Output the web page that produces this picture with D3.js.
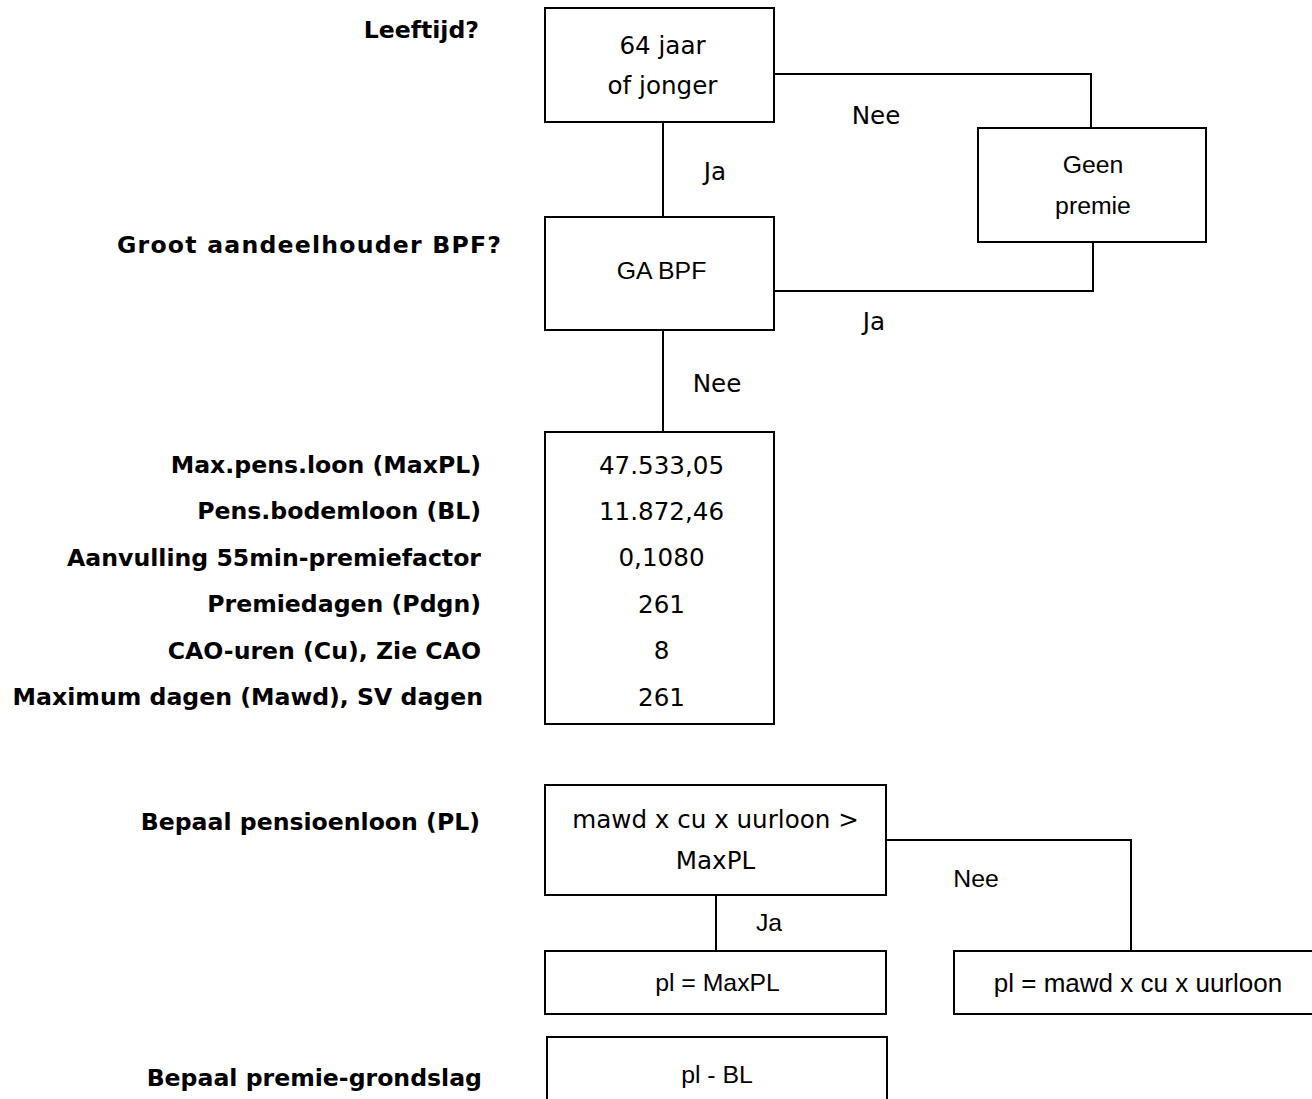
<!DOCTYPE html>
<html>
<head>
<meta charset="utf-8">
<script src="https://cdn.jsdelivr.net/npm/d3@7"></script>
<style>
  body { margin: 0; background: #fff; }
  svg { display: block; }
  .q { font-family: "DejaVu Sans", Tahoma, sans-serif; font-weight: bold; font-size: 23.6px; fill: #000; }
  .t { font-family: "DejaVu Sans", Tahoma, sans-serif; font-size: 24.6px; fill: #000; }
  .a { font-family: "Liberation Sans", Arial, sans-serif; font-size: 24.8px; fill: #000; }
  .box { fill: none; stroke: #000; stroke-width: 2; }
  .link { fill: none; stroke: #000; stroke-width: 2; }
</style>
</head>
<body>
<svg width="1312" height="1099"></svg>
<script>
// Questions on the left
var questions = ["Leeftijd?", "Groot aandeelhouder BPF?", "Bepaal pensioenloon (PL)", "Bepaal premie-grondslag"];

// Parameter block
var paramLabels = [
  "Max.pens.loon (MaxPL)",
  "Pens.bodemloon (BL)",
  "Aanvulling 55min-premiefactor",
  "Premiedagen (Pdgn)",
  "CAO-uren (Cu), Zie CAO",
  "Maximum dagen (Mawd), SV dagen"
];
var paramValues = ["47.533,05", "11.872,46", "0,1080", "261", "8", "261"];

// Box texts
var ageText = ["64 jaar", "of jonger"];
var noPremText = ["Geen", "premie"];
var gaText = ["GA BPF"];
var plTest = ["mawd x cu x uurloon >", "MaxPL"];
var plMax = ["pl = MaxPL"];
var plCalc = ["pl = mawd x cu x uurloon"];
var baseText = ["pl - BL"];

// Branch labels
var yes = "Ja", no = "Nee";

var svg = d3.select("svg"),
  width = +svg.attr("width"),
  height = +svg.attr("height");

// box layout (x0, y0, x1, y1)
var B = {
  age:    [545, 8, 774, 122],
  noPrem: [978, 128, 1206, 242],
  ga:     [545, 217, 774, 330],
  params: [545, 432, 774, 724],
  test:   [545, 785, 886, 895],
  max:    [545, 951, 886, 1014],
  calc:   [954, 951, 1318, 1014],
  base:   [547, 1037, 887, 1104]
};

function cx(b) { return (b[0] + b[2]) / 2; }
function cy(b) { return (b[1] + b[3]) / 2; }

// boxes
svg.selectAll(".box")
  .data(Object.values(B))
  .enter()
  .append("rect")
  .attr("class", "box")
  .attr("x", function(d) { return d[0]; })
  .attr("y", function(d) { return d[1]; })
  .attr("width", function(d) { return d[2] - d[0]; })
  .attr("height", function(d) { return d[3] - d[1]; });

// text lines inside a box
function boxText(b, lines, cls, gap, dx, dy, size) {
  var y = d3.scalePoint().domain(d3.range(lines.length))
    .range([cy(b) - gap / 2 * (lines.length - 1), cy(b) + gap / 2 * (lines.length - 1)]);
  var t = svg.append("g").selectAll("text")
    .data(lines)
    .enter()
    .append("text")
    .attr("class", cls)
    .attr("text-anchor", "middle")
    .attr("dominant-baseline", "central")
    .attr("x", cx(b) + (dx || 0))
    .attr("y", function(d, i) { return (lines.length > 1 ? y(i) : cy(b)) + (dy || 0); })
    .text(function(d) { return d; });
  if (size) t.style("font-size", size + "px");
}

boxText(B.age, ageText, "t", 40, 3);
boxText(B.noPrem, noPremText, "a", 41, 1);
boxText(B.ga, gaText, "a", 0, 2, -3);
boxText(B.test, plTest, "t", 41, 0);
boxText(B.max, plMax, "a", 0, 2);
boxText(B.calc, plCalc, "a", 0, 2, 0, 26);
boxText(B.base, baseText, "a", 0, 0, 4);

// connectors
var line = d3.line();
var links = [
  [[774, 74], [1091, 74], [1091, B.noPrem[1]]],
  [[663, B.age[3]], [663, B.ga[1]]],
  [[774, 291], [1093, 291], [1093, B.noPrem[3]]],
  [[663, B.ga[3]], [663, B.params[1]]],
  [[886, 840], [1131, 840], [1131, B.calc[1]]],
  [[716, B.test[3]], [716, B.max[1]]]
];
svg.selectAll(".link")
  .data(links)
  .enter()
  .append("path")
  .attr("class", "link")
  .attr("d", line);

// branch labels
var branch = [
  {t: no, x: 876, y: 115, c: "t"},
  {t: yes, x: 715, y: 171, c: "t"},
  {t: yes, x: 874, y: 321, c: "t"},
  {t: no, x: 717, y: 383, c: "t"},
  {t: no, x: 976, y: 878, c: "a"},
  {t: yes, x: 769, y: 922, c: "a"}
];
svg.selectAll(".branch")
  .data(branch)
  .enter()
  .append("text")
  .attr("class", function(d) { return d.c; })
  .attr("text-anchor", "middle")
  .attr("dominant-baseline", "central")
  .attr("x", function(d) { return d.x; })
  .attr("y", function(d) { return d.y; })
  .text(function(d) { return d.t; });

// questions
var qPos = [[479, 30], [501, 245], [480, 822], [482, 1078]];
svg.selectAll(".qq")
  .data(questions)
  .enter()
  .append("text")
  .attr("class", "q")
  .attr("text-anchor", "end")
  .attr("dominant-baseline", "central")
  .attr("x", function(d, i) { return qPos[i][0]; })
  .attr("y", function(d, i) { return qPos[i][1]; })
  .attr("textLength", function(d, i) { return i == 1 ? 384 : null; })
  .attr("lengthAdjust", "spacing")
  .text(function(d) { return d; });

// parameter rows
var rowY = d3.scalePoint().domain(paramLabels).range([465, 697]);

svg.selectAll(".pl")
  .data(paramLabels)
  .enter()
  .append("text")
  .attr("class", "q")
  .attr("text-anchor", "end")
  .attr("dominant-baseline", "central")
  .attr("x", function(d, i) { return i == 5 ? 483 : 481; })
  .attr("y", function(d) { return rowY(d); })
  .text(function(d) { return d; });

svg.selectAll(".pv")
  .data(paramValues)
  .enter()
  .append("text")
  .attr("class", "t")
  .attr("text-anchor", "middle")
  .attr("dominant-baseline", "central")
  .attr("x", cx(B.params) + 2)
  .attr("y", function(d, i) { return rowY(paramLabels[i]); })
  .text(function(d) { return d; });
</script>
</body>
</html>
